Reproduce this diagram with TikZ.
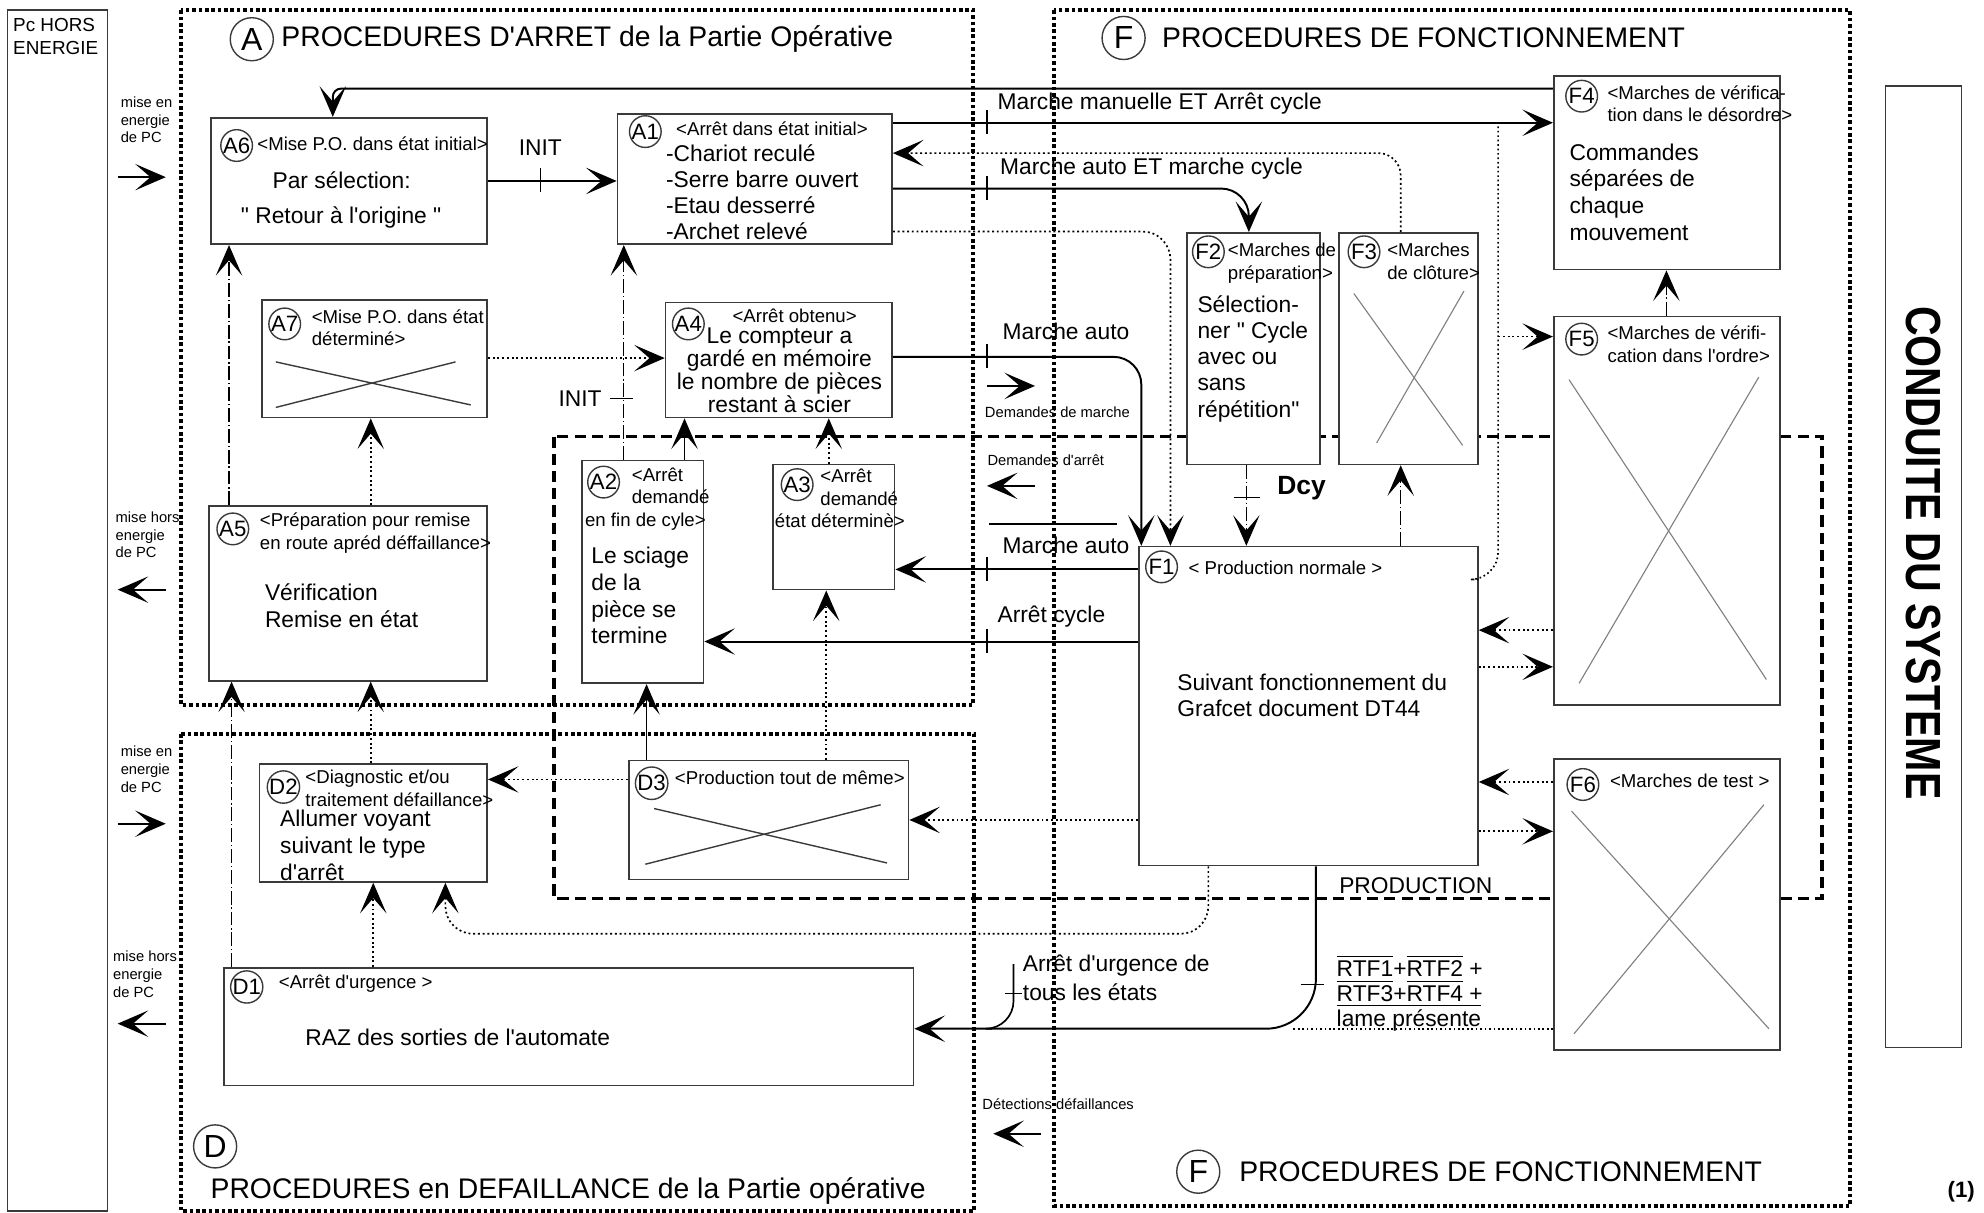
\documentclass[tikz,border=0pt]{standalone}
\usepackage{fontspec}
\setmainfont{Liberation Sans}[Ligatures=TeXOff]
\usetikzlibrary{arrows.meta,fit}
\definecolor{traitgris}{HTML}{3A3A3A}
\definecolor{croixgris}{HTML}{808080}
\newcommand\ftitre{\fontsize{10.2}{12}\selectfont}
\newcommand\fcorps{\fontsize{8.2}{9.5}\selectfont}
\newcommand\fentete{\fontsize{6.7}{8.2}\selectfont}
\newcommand\fmarge{\fontsize{5.3}{6.4}\selectfont}
\tikzset{
  zone/.style={densely dotted, line width=1.3pt},
  prodzone/.style={line width=1.3pt, dash pattern=on 4pt off 2.2pt},
  etat/.style={draw=traitgris, line width=0.6pt, fill=white, inner sep=0pt},
  num/.style={draw=traitgris, circle, line width=0.5pt, inner sep=0pt, minimum size=11.4pt, font=\fontsize{8}{8}\selectfont},
  grandnum/.style={draw=traitgris, circle, line width=0.5pt, inner sep=0pt, minimum size=15.5pt, font=\fontsize{11.5}{11.5}\selectfont},
  titre/.style={anchor=west, inner sep=0pt, font=\ftitre},
  entete/.style={anchor=north west, inner sep=0pt, align=left, font=\fentete},
  corps/.style={anchor=north west, inner sep=0pt, align=left, font=\fcorps},
  lbl/.style={anchor=west, inner sep=0pt, font=\fcorps},
  marge/.style={anchor=north west, inner sep=0pt, align=left, font=\fmarge},
  flow/.style={-{Stealth[length=11pt,width=9.5pt,inset=5.5pt]}, line width=0.7pt},
  aux/.style={flow, densely dotted, line width=0.6pt},
  mixte/.style={flow, line width=0.45pt, dash pattern=on 5pt off 1pt on 0.5pt off 1pt},
  trait/.style={line width=0.5pt},
  croix/.style={draw=croixgris, line width=0.4pt},
  croixnoire/.style={draw=traitgris, line width=0.5pt}
}
\begin{document}
\begin{tikzpicture}[x=0.016cm, y=-0.016cm]
  \useasboundingbox (0,0) rectangle (1568,958);
  % zones
  \draw[line width=0.5pt, draw=traitgris] (6,8) rectangle (85,957);
  \draw[line width=0.5pt, draw=traitgris] (1490,68) rectangle (1550,828);
  \draw[zone] (143,8) rectangle (769,557);
  \draw[zone] (143,580) rectangle (770,957);
  \draw[zone] (833,8) rectangle (1462,953);
  \draw[prodzone] (438,345) rectangle (1440,710);
  \node[marge, font=\fontsize{6.8}{8.2}\selectfont] (pct) at (10,14) {Pc HORS\\ENERGIE};
  \node[inner sep=0pt, rotate=-90, font=\fontsize{14.8}{15}\bfseries] (csys) at (1520,437) {\scalebox{1}[1.2]{CONDUITE DU SYSTEME}};
  \node[inner sep=0pt, font=\fontsize{8}{8}\bfseries] (pg) at (1550,942) {(1)};

  % titres
  \node[grandnum] (zan) at (199,31) {A};
  \node[titre] (zat) at (222,31) {PROCEDURES D'ARRET de la Partie Opérative};
  \node[grandnum] (zfn) at (888,30) {F};
  \node[titre] (zft) at (918,30) {PROCEDURES DE FONCTIONNEMENT};
  \node[grandnum] (zfb) at (947,926) {F};
  \node[titre] (zfbt) at (979,926) {PROCEDURES DE FONCTIONNEMENT};
  \node[grandnum] (zdn) at (170,906) {D};
  \node[titre] (zdt) at (166,941) {PROCEDURES en DEFAILLANCE de la Partie opérative};

  % etats A
  \node[etat, fit={(167,93) (385,193)}] (a6) {};
  \node[etat, fit={(488,90) (705,193)}] (a1) {};
  \node[etat, fit={(207,237) (385,330)}] (a7) {};
  \node[etat, fit={(526,239) (705,330)}] (a4) {};
  \node[etat, fit={(165,400) (385,538)}] (a5) {};
  \node[etat, fit={(460,364) (556,540)}] (a2) {};
  \node[etat, fit={(611,367) (707,466)}] (a3) {};
  % etats D
  \node[etat, fit={(205,604) (385,697)}] (d2) {};
  \node[etat, fit={(497,601) (718,695)}] (d3) {};
  \node[etat, fit={(177,765) (722,858)}] (d1) {};
  % etats F
  \node[etat, fit={(900,432) (1168,684)}] (f1) {};
  \node[etat, fit={(938,184) (1043,367)}] (f2) {};
  \node[etat, fit={(1058,184) (1168,367)}] (f3) {};
  \node[etat, fit={(1228,60) (1407,213)}] (f4) {};
  \node[etat, fit={(1228,250) (1407,557)}] (f5) {};
  \node[etat, fit={(1228,600) (1407,830)}] (f6) {};

  % contenus
  \node[num] (a6n) at (187,115) {A6};
  \node[entete] (a6h) at (203,108) {<Mise P.O. dans état initial>};
  \node[corps] (a6b1) at (215,135) {Par sélection:};
  \node[corps] (a6b2) at (190,163) {" Retour à l'origine "};
  \node[num] (a1n) at (510,104) {A1};
  \node[entete] (a1h) at (534,96) {<Arrêt dans état initial>};
  \node[corps, font=\fontsize{8.2}{9.35}\selectfont] (a1b) at (526,114) {-Chariot reculé\\-Serre barre ouvert\\-Etau desserré\\-Archet relevé};
  \node[num] (a7n) at (225,256) {A7};
  \node[entete] (a7h) at (246,244) {<Mise P.O. dans état\\déterminé>};
  \draw[croixnoire] (218,286) -- (372,320);
  \draw[croixnoire] (218,322) -- (360,286);
  \node[num] (a4n) at (544,256) {A4};
  \node[entete, anchor=north] (a4h) at (628,244) {<Arrêt obtenu>};
  \node[corps, anchor=north, align=center, font=\fontsize{8.2}{8.2}\selectfont] (a4b) at (616,259) {Le compteur a\\gardé en mémoire\\le nombre de pièces\\restant à scier};
  \node[num] (a5n) at (184,418) {A5};
  \node[entete] (a5h) at (205,405) {<Préparation pour remise\\en route apréd déffaillance>};
  \node[corps, font=\fontsize{8.2}{9.6}\selectfont] (a5b) at (209,461) {Vérification\\Remise en état};
  \node[num] (a2n) at (477,381) {A2};
  \node[entete] (a2h) at (499,369) {<Arrêt\\demandé};
  \node[entete] (a2h3) at (462,405) {en fin de cyle>};
  \node[corps, font=\fontsize{8.2}{9.6}\selectfont] (a2b) at (467,432) {Le sciage\\de la\\pièce se\\termine};
  \node[num] (a3n) at (630,383) {A3};
  \node[entete] (a3h) at (648,370) {<Arrêt\\demandé};
  \node[entete] (a3h3) at (612,406) {état déterminè>};
  \node[num] (d2n) at (224,622) {D2};
  \node[entete] (d2h) at (241,608) {<Diagnostic et/ou\\traitement défaillance>};
  \node[corps, font=\fontsize{8.2}{9.6}\selectfont] (d2b) at (221,640) {Allumer voyant\\suivant le type\\d'arrêt};
  \node[num] (d3n) at (515,619) {D3};
  \node[entete] (d3h) at (533,609) {<Production tout de même>};
  \draw[croixnoire] (517,639) -- (701,682);
  \draw[croixnoire] (510,683) -- (696,636);
  \node[num] (d1n) at (195,780) {D1};
  \node[entete] (d1h) at (220,770) {<Arrêt d'urgence >};
  \node[corps] (d1b) at (241,813) {RAZ des sorties de l'automate};
  \node[num] (f1n) at (918,448) {F1};
  \node[entete] (f1h) at (939,443) {< Production normale >};
  \node[corps, font=\fontsize{8.2}{9.6}\selectfont] (f1b) at (930,532) {Suivant fonctionnement du\\Grafcet document DT44};
  \node[num] (f2n) at (955,199) {F2};
  \node[entete] (f2h) at (970,192) {<Marches de\\préparation>};
  \node[corps, font=\fontsize{8.2}{9.45}\selectfont] (f2b) at (946,233) {Sélection-\\ner " Cycle\\avec ou\\sans\\répétition"};
  \node[num] (f3n) at (1078,199) {F3};
  \node[entete] (f3h) at (1096,192) {<Marches\\de clôture>};
  \draw[croix] (1070,232) -- (1156,352);
  \draw[croix] (1088,350) -- (1157,230);
  \node[num] (f4n) at (1250,76) {F4};
  \node[entete] (f4h) at (1270,67) {<Marches de vérifica-\\tion dans le désordre>};
  \node[corps, font=\fontsize{8.2}{9.6}\selectfont] (f4b) at (1240,113) {Commandes\\séparées de\\chaque\\mouvement};
  \node[num] (f5n) at (1250,268) {F5};
  \node[entete] (f5h) at (1270,257) {<Marches de vérifi-\\cation dans l'ordre>};
  \draw[croix] (1240,300) -- (1396,537);
  \draw[croix] (1248,540) -- (1390,298);
  \node[num] (f6n) at (1251,620) {F6};
  \node[entete] (f6h) at (1272,611) {<Marches de test >};
  \draw[croix] (1242,641) -- (1398,813);
  \draw[croix] (1244,817) -- (1394,636);

  % liaisons
  \draw[flow, rounded corners=3pt] (f4.west |- 0,70) -| (a6.north -| 263,0);
  \draw[flow] (a1.east |- 0,97) -- (f4.west |- 0,97);
  \draw[aux, rounded corners=8pt] (f3.north -| 1107,0) |- (a1.east |- 0,121);
  \draw[flow, rounded corners=10pt] (a1.east |- 0,149) -| (f2.north -| 987,0);
  \draw[aux, rounded corners=10pt] (a1.east |- 0,183) -| (f1.north -| 925,0);
  \draw[flow, rounded corners=10pt] (a4.east |- 0,282) -| (f1.north -| 902,0);
  \draw[flow] (f1.west |- 0,450) -- (a3.east |- 0,450);
  \draw[flow] (f1.west |- 0,507) -- (a2.east |- 0,507);
  \draw[aux] (f1.west |- 0,648) -- (d3.east |- 0,648);
  \draw[aux] (d3.west |- 0,616) -- (d2.east |- 0,616);
  \draw[aux, rounded corners=10pt] (f1.south -| 955,0) |- (352,738) -- (d2.south -| 352,0);
  \draw[aux] (d1.north -| 295,0) -- (d2.south -| 295,0);
  \draw[mixte] (d1.north -| 183,0) -- (a5.south -| 183,0);
  \draw[aux] (d2.north -| 293,0) -- (a5.south -| 293,0);
  \draw[mixte] (a5.north -| 181,0) -- (a6.south -| 181,0);
  \draw[aux] (a5.north -| 293,0) -- (a7.south -| 293,0);
  \draw[aux] (a7.east |- 0,283) -- (a4.west |- 0,283);
  \draw[flow] (a6.east |- 0,143) -- (a1.west |- 0,143);
  \draw[mixte] (a2.north -| 493,0) -- (a1.south -| 493,0);
  \draw[flow, line width=0.5pt] (a2.north -| 541,0) -- (a4.south -| 541,0);
  \draw[aux] (a3.north -| 655,0) -- (a4.south -| 655,0);
  \draw[flow, line width=0.5pt] (d3.north -| 511,0) -- (a2.south -| 511,0);
  \draw[aux] (d3.north -| 653,0) -- (a3.south -| 653,0);
  \draw[mixte] (f2.south -| 985,0) -- (f1.north -| 985,0);
  \draw[mixte] (f1.north -| 1107,0) -- (f3.south -| 1107,0);
  \draw[mixte] (f5.north -| 1317,0) -- (f4.south -| 1317,0);
  \coordinate (jf4) at (1184,97);
  \coordinate (jf5) at (1184,266);
  \draw[densely dotted, line width=0.6pt, rounded corners=10pt] (f1.east |- 0,458) -| (jf4);
  \draw[aux] (jf5) -- (f5.west |- 0,266);
  \draw[aux] (f5.west |- 0,498) -- (f1.east |- 0,498);
  \draw[aux] (f1.east |- 0,527) -- (f5.west |- 0,527);
  \draw[aux] (f6.west |- 0,618) -- (f1.east |- 0,618);
  \draw[aux] (f1.east |- 0,657) -- (f6.west |- 0,657);
  \draw[flow, rounded corners=18pt] (f1.south -| 1040,0) |- (d1.east |- 0,813);
  \coordinate (jrtf) at (1022,813);
  \draw[densely dotted, line width=0.6pt] (f6.west |- 0,813) -- (jrtf);
  \coordinate (au) at (801,762);
  \coordinate (jau) at (784,813);
  \draw[line width=0.6pt, rounded corners=10pt] (au) |- (jau);

  % reperes
  \foreach \y in {97,149,282,450,507}
    \draw[trait] (780,\y-10) -- (780,\y+9);
  \draw[trait] (427,133) -- (427,152);
  \draw[trait] (482,315) -- (500,315);
  \draw[trait] (975,393) -- (996,393);
  \draw[trait] (1028,778) -- (1046,778);
  \draw[trait] (794,785) -- (808,785);
  \coordinate (dg1) at (782,414);
  \coordinate (dg2) at (883,414);
  \draw[trait] (dg1) -- (dg2);

  % etiquettes
  \node[lbl] (lmm) at (788,82) {Marche manuelle ET Arrêt cycle};
  \node[lbl] (lmc) at (790,133) {Marche auto ET marche cycle};
  \node[lbl] (lma1) at (792,262) {Marche auto};
  \node[lbl] (lma2) at (792,431) {Marche auto};
  \node[lbl] (lac) at (788,487) {Arrêt cycle};
  \node[inner sep=0pt, font=\fcorps] (lin1) at (427,117) {INIT};
  \node[lbl] (lin2) at (441,315) {INIT};
  \node[lbl, font=\fontsize{9.5}{10}\bfseries] (ldcy) at (1009,386) {Dcy};
  \node[lbl] (lprod) at (1058,700) {PRODUCTION};
  \node[lbl] (rtf1) at (1056,763) {$\overline{\mbox{RTF1}}$+$\overline{\mbox{RTF2}}$ +};
  \node[lbl] (rtf2) at (1056,783) {$\overline{\mbox{RTF3}}$+$\overline{\mbox{RTF4}}$ +};
  \node[lbl] (rtf3) at (1056,804) {$\overline{\mbox{lame présente}}$};
  \node[lbl] (lau1) at (808,763) {Arrêt d'urgence de};
  \node[lbl] (lau2) at (808,784) {tous les états};
  \node[marge] (ldm) at (778,321) {Demandes de marche};
  \node[marge] (lda) at (780,359) {Demandes d'arrêt};
  \node[marge] (ldd) at (776,868) {Détections défaillances};
  \coordinate (dm1) at (780,305);
  \coordinate (dm2) at (818,305);
  \draw[flow] (dm1) -- (dm2);
  \coordinate (da1) at (818,384);
  \coordinate (da2) at (780,384);
  \draw[flow] (da1) -- (da2);
  \coordinate (dd1) at (823,896);
  \coordinate (dd2) at (785,896);
  \draw[flow] (dd1) -- (dd2);

  % marge energie
  \node[marge] (me1) at (95,76) {mise en\\energie\\de PC};
  \node[marge] (mh1) at (91,404) {mise hors\\energie\\de PC};
  \node[marge] (me2) at (95,589) {mise en\\energie\\de PC};
  \node[marge] (mh2) at (89,751) {mise hors\\energie\\de PC};
  \coordinate (me1a) at (93,140);
  \coordinate (me1b) at (131,140);
  \draw[flow] (me1a) -- (me1b);
  \coordinate (mh1a) at (131,466);
  \coordinate (mh1b) at (93,466);
  \draw[flow] (mh1a) -- (mh1b);
  \coordinate (me2a) at (93,651);
  \coordinate (me2b) at (131,651);
  \draw[flow] (me2a) -- (me2b);
  \coordinate (mh2a) at (131,809);
  \coordinate (mh2b) at (93,809);
  \draw[flow] (mh2a) -- (mh2b);
\end{tikzpicture}
\end{document}
